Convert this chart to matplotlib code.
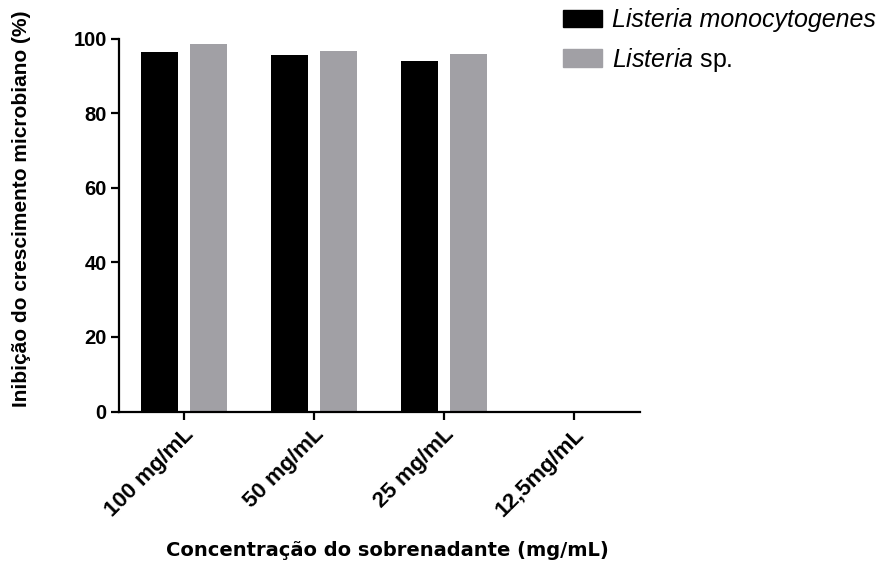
import numpy as np
import matplotlib
matplotlib.use('Agg')
import matplotlib.pyplot as plt
import matplotlib.transforms as mtransforms
from matplotlib.patches import Patch

plt.rcParams['font.family'] = ['Liberation Sans', 'DejaVu Sans']
plt.rcParams['mathtext.fontset'] = 'custom'
plt.rcParams['mathtext.it'] = 'Liberation Sans:italic'
plt.rcParams['mathtext.rm'] = 'Liberation Sans'

# Data
concentracoes = ['100 mg/mL', '50 mg/mL', '25 mg/mL', '12,5mg/mL']
monocytogenes = [96.6, 95.6, 94.2, 0]
listeria_sp = [98.6, 96.9, 96.0, 0]

cor_preta = '#000000'
cor_cinza = '#a1a0a5'

fig = plt.figure(figsize=(8.95, 5.69), dpi=100)
ax = fig.add_axes([0.1333, 0.2768, 0.5818, 0.6547])

x = np.arange(len(concentracoes))
largura = 0.28
ax.bar(x - 0.187, monocytogenes, largura, color=cor_preta)
ax.bar(x + 0.19, listeria_sp, largura, color=cor_cinza)

ax.set_xlim(-0.495, 3.51)
ax.set_ylim(0, 100)
ax.set_yticks([0, 20, 40, 60, 80, 100])
ax.set_xticks(x)
ax.set_xticklabels(concentracoes, rotation=45, ha='right', rotation_mode='anchor',
                   fontsize=16, fontweight='bold')
desloc = mtransforms.ScaledTranslation(0.07, -0.03, fig.dpi_scale_trans)
for lbl in ax.get_xticklabels():
    lbl.set_transform(lbl.get_transform() + desloc)
for lbl in ax.get_yticklabels():
    lbl.set_fontsize(14.5)
    lbl.set_fontweight('bold')

for s in ['top', 'right']:
    ax.spines[s].set_visible(False)
for s in ['left', 'bottom']:
    ax.spines[s].set_linewidth(1.6)
ax.tick_params(axis='both', width=1.6, length=6, pad=3)

fig.text(22 / 895, 1 - 209 / 569, 'Inibição do crescimento microbiano (%)',
         rotation=90, ha='center', va='center', fontsize=15, fontweight='bold')
fig.text(387 / 895, 1 - 551 / 569, 'Concentração do sobrenadante (mg/mL)',
         ha='center', va='center', fontsize=14, fontweight='bold', family='DejaVu Sans')

handles = [Patch(color=cor_preta), Patch(color=cor_cinza)]
labels = ['Listeria monocytogenes', r'$\mathit{Listeria}$ sp.']
leg = fig.legend(handles, labels, loc='upper left', bbox_to_anchor=(563 / 895, 1 - 8 / 569),
                 frameon=False, fontsize=18, handlelength=1.55, handleheight=0.68,
                 labelspacing=0.55, handletextpad=0.42, borderpad=0, borderaxespad=0)
leg.get_texts()[0].set_fontstyle('italic')

fig.savefig('out.png', dpi=100)
